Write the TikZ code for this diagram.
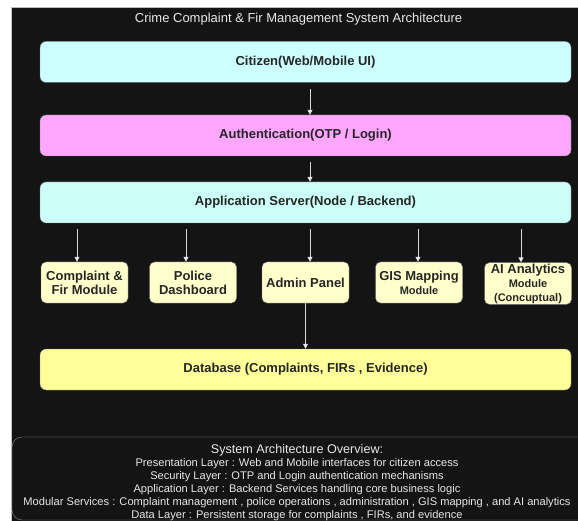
\documentclass[tikz,border=0pt]{standalone}
\usepackage{fontspec}
\setmainfont{Liberation Sans}
\usetikzlibrary{arrows.meta}

\definecolor{bgdark}{HTML}{141414}
\definecolor{citizencyan}{HTML}{CCFFFF}
\definecolor{authpink}{HTML}{FFA6FF}
\definecolor{servercyan}{HTML}{CCFFF7}
\definecolor{modyellow}{HTML}{FFFFCC}
\definecolor{dbyellow}{HTML}{FFFF99}
\definecolor{arrowgray}{HTML}{D9D9D9}
\definecolor{framegray}{HTML}{8C8C8C}
\definecolor{textlight}{HTML}{E8E8E8}

\begin{document}
\begin{tikzpicture}[x=1pt, y=-1pt,
    layer/.style={draw=black!55, rounded corners=6pt, minimum width=531pt, minimum height=41pt,
        font=\bfseries\fontsize{13}{15}\selectfont, text=black!85},
    module/.style={draw=black!55, fill=modyellow, rounded corners=5pt, minimum width=87pt,
        minimum height=41pt, inner sep=1pt, align=center,
        font=\bfseries\fontsize{13}{14}\selectfont, text=black!85},
    flow/.style={draw=arrowgray, line width=0.8pt, shorten <=6pt,
        -{Triangle[width=5pt, length=5pt, fill=white]}}
]

    \useasboundingbox (0,0) rectangle (578,521);
    \clip (0,0) rectangle (578,521);

    % Background
    \fill[white] (0,0) rectangle (578,521);
    \fill[bgdark] (11,8) rectangle (578,521);
    \draw[black!25, line width=1pt] (11,521) -- (11,8) -- (578,8);

    % Title
    \node[text=textlight, font=\fontsize{13}{15}\selectfont] (title) at (298.5,19)
        {Crime Complaint \& Fir Management System Architecture};

    % Layers
    \node[layer, fill=citizencyan] (citizen) at (305.5,62) {Citizen(Web/Mobile UI)};
    \node[layer, fill=authpink] (auth) at (305.5,135.5) {Authentication(OTP / Login)};
    \node[layer, fill=servercyan] (server) at (305.5,202.5) {Application Server(Node / Backend)};

    % Modules
    \node[module] (complaint) at (84.5,282.5) {Complaint \&\\Fir Module};
    \node[module] (police) at (193,282.5) {Police\\Dashboard};
    \node[module] (admin) at (305.5,282.5) {Admin Panel};
    \node[module] (gis) at (419,282.5) {GIS Mapping\\{\fontsize{11}{12}\selectfont Module}};
    \node[module] (ai) at (528,283.5) {AI Analytics\\{\fontsize{11}{12}\selectfont Module}\\{\fontsize{11}{12}\selectfont(Concuptual)}};

    % Database
    \node[layer, fill=dbyellow] (db) at (305.5,369.5) {Database (Complaints, FIRs , Evidence)};

    % Arrows
    \draw[flow] ([xshift=4.5pt]citizen.south) -- ([xshift=4.5pt]auth.north);
    \draw[flow] ([xshift=4.5pt]auth.south) -- ([xshift=4.5pt]server.north);
    \foreach \m/\dx in {complaint/-7.5, police/-7, admin/4.5, gis/-1, ai/-7}
        \draw[flow] ([xshift=\dx pt]server.south -| \m.north) -- ([xshift=\dx pt]\m.north);
    \draw[flow, shorten <=0pt] (admin.south) -- (admin.south |- db.north);

    % Overview
    \draw[framegray, fill=bgdark, rounded corners=10pt] (12,437) rectangle (600,520);
    \node[text=textlight, align=center, font=\fontsize{11.1}{13}\selectfont] (overview) at (297,482.5)
        {{\fontsize{12.6}{13}\selectfont System Architecture Overview:}\\
         Presentation Layer : Web and Mobile interfaces for citizen access\\
         Security Layer : OTP and Login authentication mechanisms\\
         Application Layer : Backend Services handling core business logic\\
         Modular Services : Complaint management , police operations , administration , GIS mapping , and AI analytics\\
         Data Layer : Persistent storage for complaints , FIRs, and evidence};

\end{tikzpicture}
\end{document}
